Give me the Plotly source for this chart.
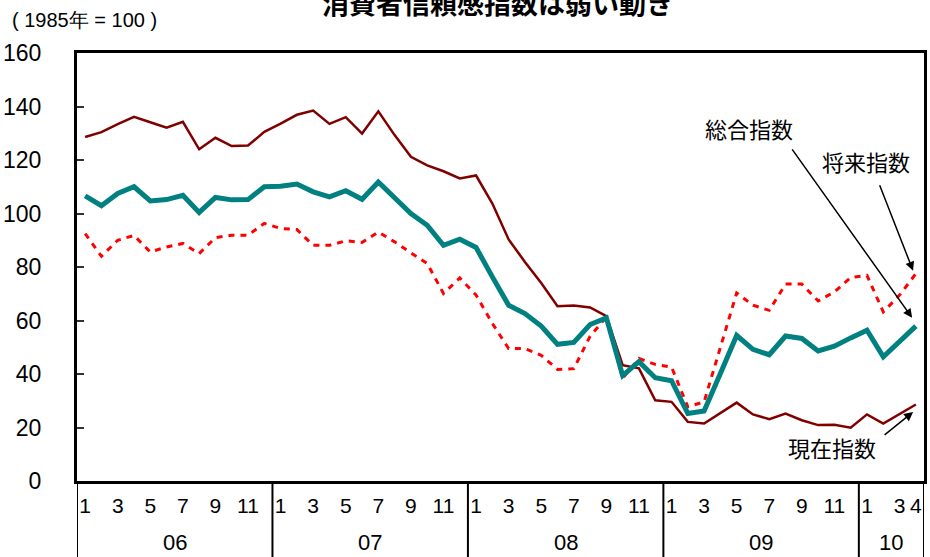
import plotly.graph_objects as go

# Monthly data Jan 2006 - Apr 2010 (1985 = 100)
years = ["06", "07", "08", "09", "10"]
months_per_year = [12, 12, 12, 12, 4]

present_idx = [  # 現在指数
    128.6, 130.4, 133.4, 136.1, 134.1, 132.1, 134.3, 124.0, 128.3, 125.2, 125.4, 130.5,
    133.6, 136.9, 138.5, 133.5, 136.0, 129.9, 138.2, 129.3, 121.2, 118.0, 115.8, 113.1,
    114.2, 103.7, 90.3, 81.9, 74.0, 65.3, 65.6, 64.9, 61.6, 43.3, 42.1, 30.2,
    29.6, 22.1, 21.5, 25.5, 29.3, 24.9, 23.1, 25.2, 22.7, 20.9, 21.0, 19.9,
    24.9, 21.5, 25.0, 28.6,
]
total_idx = [  # 総合指数
    106.6, 102.9, 107.5, 110.0, 104.7, 105.2, 106.8, 100.4, 106.0, 105.1, 105.2, 110.0,
    110.2, 111.0, 108.1, 106.2, 108.5, 105.3, 111.8, 106.0, 100.0, 95.6, 88.1, 90.4,
    87.3, 76.3, 65.7, 62.6, 57.9, 51.1, 51.8, 58.5, 61.0, 39.4, 44.6, 38.6,
    37.5, 25.2, 26.2, 40.2, 54.4, 49.2, 47.2, 54.2, 53.3, 48.6, 50.4, 53.5,
    56.4, 46.4, 52.0, 57.9,
]
future_idx = [  # 将来指数
    92.5, 84.0, 90.0, 91.8, 85.6, 87.5, 88.8, 85.0, 91.0, 91.9, 91.9, 96.3,
    94.4, 94.0, 88.1, 88.1, 89.8, 89.2, 93.1, 89.4, 85.3, 81.3, 70.1, 75.9,
    69.5, 58.9, 49.5, 49.5, 47.0, 41.7, 42.0, 54.1, 61.3, 38.4, 45.8, 43.6,
    42.6, 27.7, 29.6, 49.5, 70.3, 65.7, 63.8, 73.6, 73.6, 67.3, 70.7, 76.1,
    76.9, 63.2, 69.5, 77.5,
]
month_labels_2010 = [1, 3, 4]
y_ticks = [0, 20, 40, 60, 80, 100, 120, 140, 160]

# build x positions and tick labels
x = list(range(sum(months_per_year)))
tickvals, ticktext = [], []
start = 0
year_starts = []
for yr, n in zip(years, months_per_year):
    year_starts.append(start)
    for m in range(1, n + 1):
        show = (m % 2 == 1) if n == 12 else (m in month_labels_2010)
        if show:
            tickvals.append(start + m - 1)
            ticktext.append(str(m))
    start += n

NUM = "Liberation Sans Narrow, Arial Narrow, Liberation Sans, Arial, sans-serif"
JP = "Noto Sans CJK JP, sans-serif"

fig = go.Figure()
fig.add_trace(go.Scatter(x=x, y=present_idx, mode="lines", name="現在指数",
                         line=dict(color="#800000", width=2.5)))
fig.add_trace(go.Scatter(x=x, y=future_idx, mode="lines", name="将来指数",
                         line=dict(color="#FF0000", width=3, dash="6px,6px")))
fig.add_trace(go.Scatter(x=x, y=total_idx, mode="lines", name="総合指数",
                         line=dict(color="#008080", width=5)))

shapes = []
bounds = [s - 0.5 for s in year_starts] + [len(x) - 0.5]
for b in bounds:
    shapes.append(dict(type="line", xref="x", yref="paper", x0=b, x1=b, y0=0, y1=-0.25,
                       line=dict(color="black", width=2)))

annotations = []
for yr, s, n in zip(years, year_starts, months_per_year):
    annotations.append(dict(x=s + (n - 1) / 2, y=-0.143, xref="x", yref="paper",
                            xanchor="center", yanchor="middle",
                            text=yr, showarrow=False, font=dict(family=NUM, size=22, color="black")))

def label(text, xp, yp, size=22, family=JP, xanchor="center"):
    return dict(x=xp, y=yp, xref="paper", yref="paper", text=text, showarrow=False,
                xanchor=xanchor, yanchor="middle", font=dict(family=family, size=size, color="black"))

annotations += [
    label("<b>消費者信頼感指数は弱い動き</b>", 0.497, 1.119, size=27),
    label("( 1985年 = 100 )", -0.079, 1.077, size=20, family=NUM, xanchor="left"),
    label("総合指数", 0.793, 0.825),
    label("将来指数", 0.931, 0.748),
    label("現在指数", 0.891, 0.079),
    dict(x=50.77, y=61.0, xref="x", yref="y", ax=-121, ay=-170, text="", showarrow=True,
         arrowhead=2, arrowsize=1.2, arrowwidth=1.5, arrowcolor="black"),
    dict(x=50.83, y=78.6, xref="x", yref="y", ax=-34, ay=-87, text="", showarrow=True,
         arrowhead=2, arrowsize=1.2, arrowwidth=1.5, arrowcolor="black"),
    dict(x=50.83, y=25.8, xref="x", yref="y", ax=-30, ay=24, text="", showarrow=True,
         arrowhead=2, arrowsize=1.2, arrowwidth=1.5, arrowcolor="black"),
]

fig.update_layout(
    width=930, height=557,
    margin=dict(l=75, r=3, t=53, b=76),
    paper_bgcolor="white", plot_bgcolor="white",
    showlegend=False,
    shapes=shapes,
    annotations=annotations,
    xaxis=dict(range=[-0.5, len(x) - 0.5], tickmode="array", tickvals=tickvals, ticktext=ticktext,
               tickangle=0, ticks="", showgrid=False, zeroline=False,
               showline=True, mirror=True, linecolor="black", linewidth=3,
               tickfont=dict(family=NUM, size=21, color="black"), ticklabelstandoff=4),
    yaxis=dict(range=[0, 160], tickmode="array", tickvals=y_ticks,
               ticks="inside", ticklen=7, tickcolor="#333", tickwidth=1.5,
               showgrid=False, zeroline=False,
               showline=True, mirror=True, linecolor="black", linewidth=3,
               tickfont=dict(family=NUM, size=23, color="black"), ticklabelstandoff=28),
)

fig.write_html("out.html", config={"displayModeBar": False},
               post_script="document.body.style.margin='0';document.body.style.overflow='hidden';")
